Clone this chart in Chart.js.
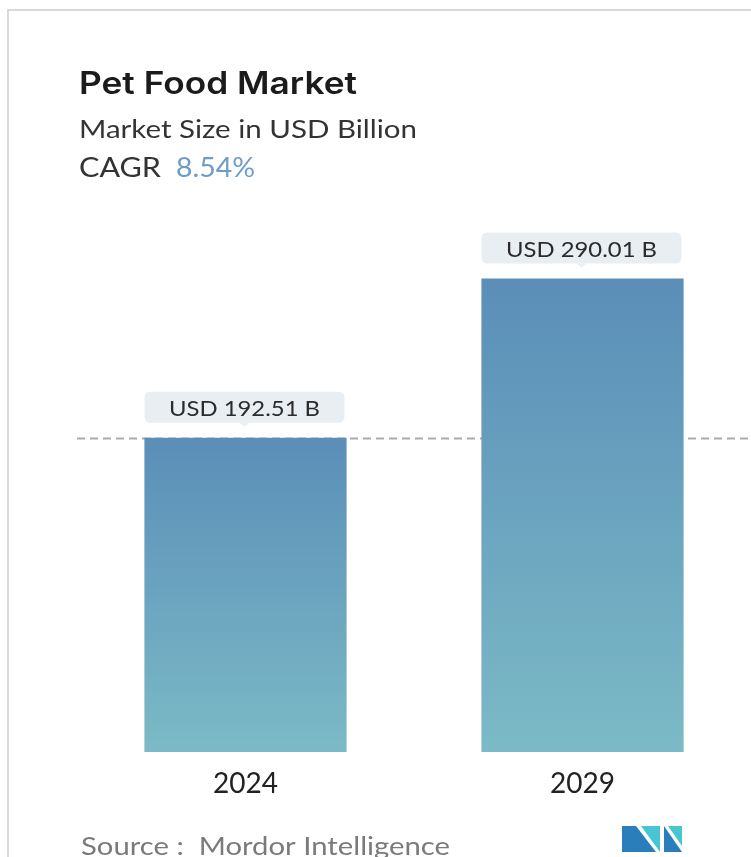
<!DOCTYPE html>
<html>
<head>
<meta charset="utf-8">
<title>Pet Food Market</title>
<script src="https://cdn.jsdelivr.net/npm/chart.js@4"></script>
<style>
  html, body { margin: 0; padding: 0; background: #fff; }
  canvas { display: block; }
</style>
</head>
<body>
<canvas id="myChart" width="751" height="857"></canvas>
<script>
// chart data
var years = ['2024', '2029'];
var marketSize = [192.51, 290.01];
var cagr = '8.54%';

var titleText = 'Pet Food Market';
var subtitleText = 'Market Size in USD Billion';
var sourceText = 'Source :  Mordor Intelligence';

var FONT = 'Lato, "Open Sans", sans-serif';

// draw text squeezed/stretched to a given width
function fitText(ctx, text, x, y, w, align) {
    var m = ctx.measureText(text).width;
    ctx.save();
    ctx.translate(x, y);
    ctx.scale(w / m, 1);
    ctx.textAlign = align || 'left';
    ctx.fillText(text, 0, 0);
    ctx.restore();
}

function roundRect(ctx, x, y, w, h, r) {
    ctx.beginPath();
    ctx.moveTo(x + r, y);
    ctx.lineTo(x + w - r, y);
    ctx.quadraticCurveTo(x + w, y, x + w, y + r);
    ctx.lineTo(x + w, y + h - r);
    ctx.quadraticCurveTo(x + w, y + h, x + w - r, y + h);
    ctx.lineTo(x + r, y + h);
    ctx.quadraticCurveTo(x, y + h, x, y + h - r);
    ctx.lineTo(x, y + r);
    ctx.quadraticCurveTo(x, y, x + r, y);
    ctx.closePath();
}

// card frame, header lines, source and logo
var decorations = {
    id: 'decorations',
    beforeDraw: function (chart) {
        var ctx = chart.ctx;
        ctx.save();
        ctx.fillStyle = '#ffffff';
        ctx.fillRect(0, 0, chart.width, chart.height);

        ctx.fillStyle = '#d9d9d9';
        ctx.fillRect(7, 9, chart.width - 7, 2);
        ctx.fillRect(7, 9, 2, chart.height - 9);

        ctx.textBaseline = 'alphabetic';
        ctx.fillStyle = '#1b1b1b';
        ctx.font = '600 31px Inter, ' + FONT;
        fitText(ctx, titleText, 79, 94, 278);

        ctx.fillStyle = '#333333';
        ctx.font = '25px ' + FONT;
        fitText(ctx, subtitleText, 79, 138, 338);

        ctx.font = '26px ' + FONT;
        fitText(ctx, 'CAGR', 79, 177, 82);
        ctx.fillStyle = '#6f9cc6';
        fitText(ctx, cagr, 176, 177, 79);

        ctx.fillStyle = '#7a7a7a';
        ctx.font = '25px ' + FONT;
        fitText(ctx, sourceText, 81, 855, 369);

        // logo
        ctx.fillStyle = '#2a7fba';
        ctx.beginPath();
        ctx.moveTo(622, 826); ctx.lineTo(636, 826); ctx.lineTo(656, 852); ctx.lineTo(622, 852);
        ctx.closePath(); ctx.fill();
        ctx.fillStyle = '#45c6d0';
        ctx.beginPath();
        ctx.moveTo(641, 826); ctx.lineTo(660, 826); ctx.lineTo(660, 852);
        ctx.closePath(); ctx.fill();
        ctx.fillStyle = '#2a7fba';
        ctx.beginPath();
        ctx.moveTo(664, 826); ctx.lineTo(682, 852); ctx.lineTo(664, 852);
        ctx.closePath(); ctx.fill();
        ctx.fillStyle = '#45c6d0';
        ctx.beginPath();
        ctx.moveTo(668, 826); ctx.lineTo(682, 826); ctx.lineTo(682, 846);
        ctx.closePath(); ctx.fill();
        ctx.restore();
    },
    // dashed reference line at the first year's value, behind the bars
    beforeDatasetsDraw: function (chart) {
        var ctx = chart.ctx;
        var y = Math.round(chart.scales.y.getPixelForValue(marketSize[0])) + 0.5;
        ctx.save();
        ctx.strokeStyle = '#ababab';
        ctx.lineWidth = 2;
        ctx.setLineDash([8, 5]);
        ctx.beginPath();
        ctx.moveTo(chart.chartArea.left, y);
        ctx.lineTo(chart.width, y);
        ctx.stroke();
        ctx.restore();
    },
    // value callouts above each bar
    afterDatasetsDraw: function (chart) {
        var ctx = chart.ctx;
        var meta = chart.getDatasetMeta(0);
        ctx.save();
        meta.data.forEach(function (bar, i) {
            var cx = bar.x - 1;
            var boxW = 200, boxH = 31;
            var bottom = bar.y - 15;
            ctx.fillStyle = '#e9eef2';
            roundRect(ctx, cx - boxW / 2, bottom - boxH, boxW, boxH, 6);
            ctx.fill();
            ctx.beginPath();
            ctx.moveTo(cx - 5, bottom);
            ctx.lineTo(cx + 5, bottom);
            ctx.lineTo(cx, bottom + 4);
            ctx.closePath();
            ctx.fill();

            ctx.fillStyle = '#2b2b2b';
            ctx.font = '22px ' + FONT;
            ctx.textBaseline = 'alphabetic';
            fitText(ctx, 'USD ' + marketSize[i].toFixed(2) + ' B', cx, bottom - 7, 151, 'center');
        });
        ctx.restore();
    }
};

function barGradient(c) {
    var chart = c.chart;
    if (!chart.chartArea || c.type !== 'data') return '#6aa2bf';
    var y = chart.scales.y;
    var top = y.getPixelForValue(c.raw);
    var g = chart.ctx.createLinearGradient(0, top, 0, y.getPixelForValue(0));
    g.addColorStop(0, '#5b8eb8');
    g.addColorStop(1, '#7bbac6');
    return g;
}

var ctx = document.getElementById('myChart').getContext('2d');
var myChart = new Chart(ctx, {
    type: 'bar',
    data: {
        labels: years,
        datasets: [{
            label: 'Market Size',
            data: marketSize,
            backgroundColor: barGradient,
            borderWidth: 0,
            categoryPercentage: 1,
            barPercentage: 0.6
        }]
    },
    options: {
        responsive: false,
        animation: false,
        devicePixelRatio: 1,
        layout: {
            padding: { left: 77, right: 0, top: 197, bottom: 0 }
        },
        plugins: {
            legend: { display: false },
            tooltip: { enabled: false },
            title: { display: false }
        },
        scales: {
            x: {
                grid: { display: false },
                border: { display: false },
                ticks: {
                    color: '#222222',
                    padding: 7,
                    font: { family: FONT, size: 28 }
                },
                afterFit: function (scale) { scale.height = 105; }
            },
            y: {
                display: false,
                beginAtZero: true,
                min: 0,
                max: 340
            }
        }
    },
    plugins: [decorations]
});
</script>
</body>
</html>
